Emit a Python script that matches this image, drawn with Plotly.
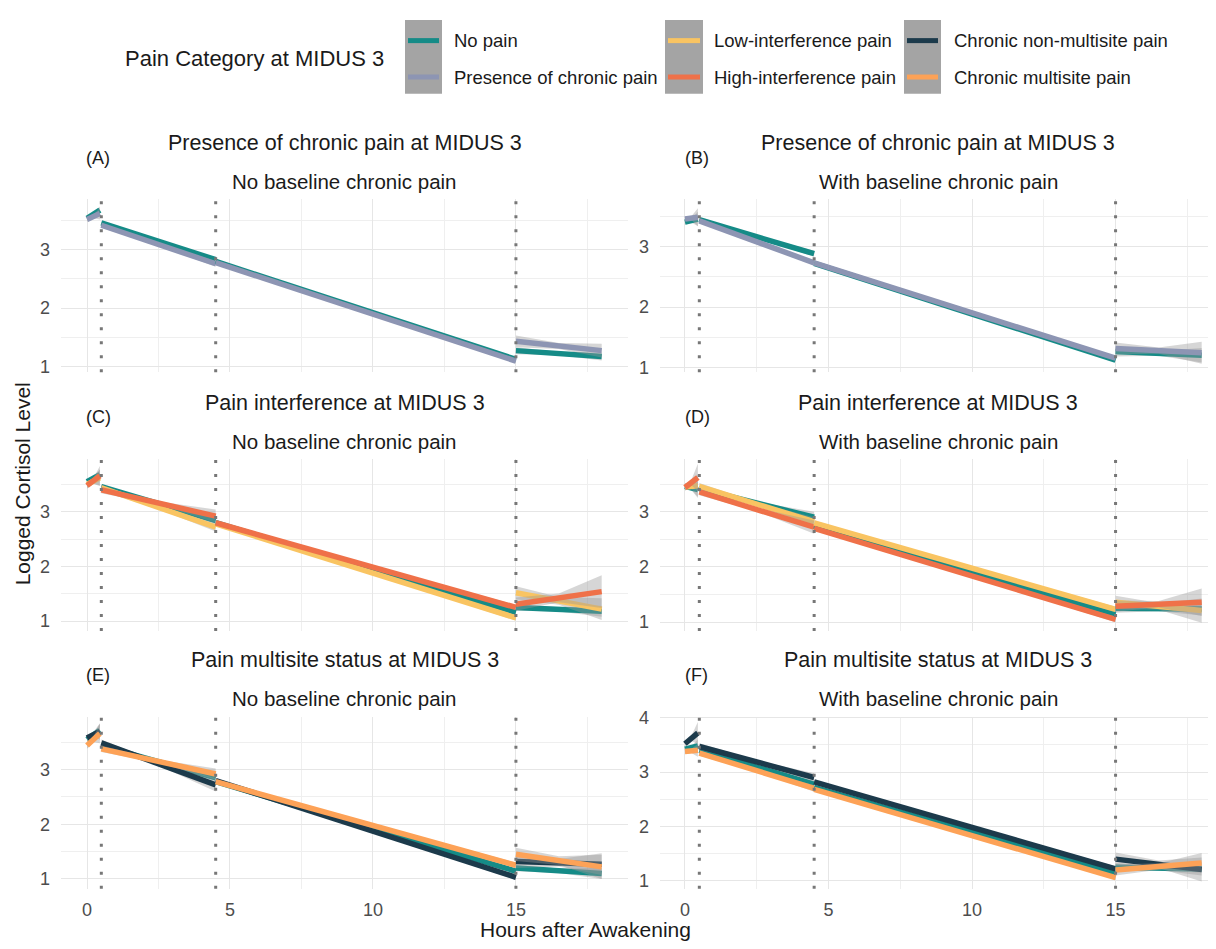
import plotly.graph_objects as go

# ---------------- data ----------------
SEGMENTS = [[0.0, 0.45], [0.5, 4.5], [4.5, 15.0], [15.0, 18.0]]
CUTPOINTS = [0.5, 4.5, 15.0]

CATEGORIES = ["No pain", "Presence of chronic pain", "Low-interference pain",
              "High-interference pain", "Chronic non-multisite pain", "Chronic multisite pain"]
COLORS = ["#158B87", "#8D95B3", "#F9C462", "#EF7149", "#1C3A4B", "#FDA257"]

ROW_TITLES = ["Presence of chronic pain at MIDUS 3", "Pain interference at MIDUS 3",
              "Pain multisite status at MIDUS 3"]
COL_TITLES = ["No baseline chronic pain", "With baseline chronic pain"]
TAGS = ["(A)", "(B)", "(C)", "(D)", "(E)", "(F)"]
X_TICKS = [0, 5, 10, 15]

# fitted values: [seg1 start, seg1 end, seg2 start, seg2 end, seg3 start, seg3 end, seg4 start, seg4 end]
A_NO_PAIN = [3.54, 3.68, 3.46, 2.83, 2.80, 1.12, 1.27, 1.17]
A_CHRONIC = [3.52, 3.62, 3.42, 2.76, 2.78, 1.09, 1.43, 1.27]
B_NO_PAIN = [3.40, 3.45, 3.44, 2.88, 2.72, 1.13, 1.27, 1.21]
B_CHRONIC = [3.45, 3.48, 3.42, 2.73, 2.73, 1.16, 1.32, 1.25]
C_NO_PAIN = [3.55, 3.68, 3.46, 2.84, 2.80, 1.16, 1.25, 1.18]
C_LOW = [3.50, 3.62, 3.44, 2.72, 2.78, 1.06, 1.52, 1.22]
C_HIGH = [3.48, 3.66, 3.40, 2.92, 2.80, 1.25, 1.31, 1.54]
D_NO_PAIN = [3.46, 3.40, 3.42, 2.90, 2.74, 1.14, 1.25, 1.24]
D_LOW = [3.45, 3.47, 3.46, 2.82, 2.80, 1.23, 1.36, 1.21]
D_HIGH = [3.44, 3.62, 3.36, 2.72, 2.70, 1.05, 1.29, 1.36]
E_NO_PAIN = [3.55, 3.72, 3.44, 2.85, 2.78, 1.14, 1.20, 1.10]
E_NONMULTI = [3.58, 3.70, 3.49, 2.72, 2.80, 1.03, 1.32, 1.27]
E_MULTI = [3.44, 3.66, 3.38, 2.92, 2.78, 1.25, 1.45, 1.22]
F_NO_PAIN = [3.42, 3.48, 3.40, 2.78, 2.72, 1.14, 1.25, 1.22]
F_NONMULTI = [3.52, 3.72, 3.47, 2.90, 2.82, 1.22, 1.40, 1.21]
F_MULTI = [3.38, 3.40, 3.35, 2.70, 2.68, 1.06, 1.20, 1.33]

# confidence half-widths: per segment [start, middle, end]
A_NO_PAIN_CI = [0.03, 0.02, 0.06, 0.03, 0.015, 0.03, 0.02, 0.01, 0.02, 0.06, 0.03, 0.07]
A_CHRONIC_CI = [0.04, 0.03, 0.10, 0.04, 0.02, 0.05, 0.03, 0.012, 0.03, 0.10, 0.05, 0.12]
B_NO_PAIN_CI = [0.04, 0.03, 0.12, 0.04, 0.02, 0.05, 0.03, 0.012, 0.03, 0.08, 0.04, 0.12]
B_CHRONIC_CI = [0.03, 0.03, 0.15, 0.03, 0.015, 0.04, 0.02, 0.01, 0.02, 0.10, 0.05, 0.18]
C_NO_PAIN_CI = [0.04, 0.03, 0.10, 0.04, 0.02, 0.05, 0.03, 0.012, 0.03, 0.06, 0.04, 0.10]
C_LOW_CI = [0.06, 0.05, 0.15, 0.06, 0.03, 0.08, 0.04, 0.02, 0.05, 0.12, 0.07, 0.20]
C_HIGH_CI = [0.06, 0.05, 0.18, 0.06, 0.03, 0.12, 0.04, 0.02, 0.05, 0.12, 0.08, 0.30]
D_NO_PAIN_CI = [0.05, 0.04, 0.15, 0.05, 0.02, 0.10, 0.03, 0.012, 0.03, 0.08, 0.05, 0.12]
D_LOW_CI = [0.06, 0.05, 0.20, 0.06, 0.03, 0.08, 0.04, 0.02, 0.05, 0.12, 0.06, 0.22]
D_HIGH_CI = [0.06, 0.05, 0.25, 0.06, 0.03, 0.12, 0.04, 0.02, 0.05, 0.10, 0.06, 0.25]
E_NO_PAIN_CI = [0.04, 0.03, 0.12, 0.04, 0.02, 0.05, 0.03, 0.012, 0.03, 0.06, 0.04, 0.10]
E_NONMULTI_CI = [0.06, 0.05, 0.15, 0.06, 0.03, 0.12, 0.04, 0.02, 0.05, 0.12, 0.07, 0.20]
E_MULTI_CI = [0.06, 0.05, 0.18, 0.06, 0.03, 0.10, 0.04, 0.02, 0.05, 0.12, 0.08, 0.22]
F_NO_PAIN_CI = [0.04, 0.03, 0.12, 0.04, 0.02, 0.05, 0.03, 0.012, 0.03, 0.08, 0.04, 0.12]
F_NONMULTI_CI = [0.06, 0.05, 0.20, 0.06, 0.03, 0.08, 0.04, 0.02, 0.05, 0.12, 0.07, 0.22]
F_MULTI_CI = [0.05, 0.04, 0.12, 0.05, 0.02, 0.06, 0.03, 0.015, 0.04, 0.10, 0.06, 0.18]

PANELS = [
    [(0, A_NO_PAIN, A_NO_PAIN_CI), (1, A_CHRONIC, A_CHRONIC_CI)],
    [(0, B_NO_PAIN, B_NO_PAIN_CI), (1, B_CHRONIC, B_CHRONIC_CI)],
    [(0, C_NO_PAIN, C_NO_PAIN_CI), (2, C_LOW, C_LOW_CI), (3, C_HIGH, C_HIGH_CI)],
    [(0, D_NO_PAIN, D_NO_PAIN_CI), (2, D_LOW, D_LOW_CI), (3, D_HIGH, D_HIGH_CI)],
    [(0, E_NO_PAIN, E_NO_PAIN_CI), (4, E_NONMULTI, E_NONMULTI_CI), (5, E_MULTI, E_MULTI_CI)],
    [(0, F_NO_PAIN, F_NO_PAIN_CI), (4, F_NONMULTI, F_NONMULTI_CI), (5, F_MULTI, F_MULTI_CI)],
]

# ---------------- layout geometry (page pixels) ----------------
PAGE_W, PAGE_H = 1216, 949
OFF = 8                      # default body margin of the html page
W, H = PAGE_W - 2 * OFF, PAGE_H - 2 * OFF
COL_PX = [(61, 628), (660, 1208)]
ROW_PX = [(193, 369), (457, 632), (719, 894)]
X_RANGES = [[-0.91, 18.92], [-0.87, 18.22]]
Y_RANGES = [[0.90, 3.87], [0.93, 3.78], [0.82, 3.97], [0.84, 3.96], [0.82, 3.97], [0.855, 4.02]]

FONT = "Liberation Sans, Arial, sans-serif"
RIBBON = "rgba(153,153,153,0.4)"


def px_x(p):
    return min(1.0, max(0.0, (p - OFF) / W))


def px_y(p):
    return 1 - (p - OFF) / H


fig = go.Figure()
layout = dict(width=W, height=H, autosize=False, margin=dict(l=0, r=0, t=0, b=0, pad=0),
              paper_bgcolor="white", plot_bgcolor="white", showlegend=False,
              font=dict(family=FONT, color="#1a1a1a"))
annotations = []
shapes = []

for i, series in enumerate(PANELS):
    r, c = divmod(i, 2)
    n = i + 1
    xa = "x" if n == 1 else f"x{n}"
    ya = "y" if n == 1 else f"y{n}"
    xkey = "xaxis" if n == 1 else f"xaxis{n}"
    ykey = "yaxis" if n == 1 else f"yaxis{n}"
    layout[xkey] = dict(
        domain=[px_x(COL_PX[c][0]), px_x(COL_PX[c][1])], range=X_RANGES[c], anchor=ya,
        tickmode="array", tickvals=X_TICKS, ticktext=[str(t) for t in X_TICKS],
        showticklabels=(r == 2), showgrid=True, gridcolor="#E6E6E6", gridwidth=1.4,
        zeroline=False, showline=False, ticks="", ticklabelstandoff=8,
        tickfont=dict(size=18, color="#4D4D4D", family=FONT),
        minor=dict(tickmode="linear", tick0=0, dtick=2.5, showgrid=True, gridcolor="#EFEFEF", gridwidth=0.9),
    )
    layout[ykey] = dict(
        domain=[px_y(ROW_PX[r][1]), px_y(ROW_PX[r][0])], range=Y_RANGES[i], anchor=xa,
        tickmode="linear", tick0=0, dtick=1, showgrid=True, gridcolor="#E6E6E6", gridwidth=1.4,
        zeroline=False, showline=False, ticks="", ticklabelstandoff=10,
        tickfont=dict(size=18, color="#4D4D4D", family=FONT),
        minor=dict(tickmode="linear", tick0=0, dtick=0.5, showgrid=True, gridcolor="#EFEFEF", gridwidth=0.9),
    )

    for s, (x0, x1) in enumerate(SEGMENTS):
        xm = (x0 + x1) / 2
        for cat, vals, ci in series:
            y0, y1 = vals[2 * s], vals[2 * s + 1]
            ym = (y0 + y1) / 2
            w0, wm, w1 = ci[3 * s], ci[3 * s + 1], ci[3 * s + 2]
            fig.add_trace(go.Scatter(
                x=[x0, xm, x1, x1, xm, x0],
                y=[y0 + w0, ym + wm, y1 + w1, y1 - w1, ym - wm, y0 - w0],
                fill="toself", fillcolor=RIBBON, line=dict(width=0), mode="lines",
                xaxis=xa, yaxis=ya, hoverinfo="skip"))
            fig.add_trace(go.Scatter(
                x=[x0, x1], y=[y0, y1], mode="lines",
                line=dict(color=COLORS[cat], width=5.5),
                xaxis=xa, yaxis=ya, name=CATEGORIES[cat]))

    for cp in CUTPOINTS:
        shapes.append(dict(type="line", xref=xa, yref=f"{ya} domain", x0=cp, x1=cp, y0=0, y1=1,
                           line=dict(color="#777777", width=3, dash="3px,11px"), layer="above"))

    top = ROW_PX[r][0]
    cx = (COL_PX[c][0] + (COL_PX[c][1] if c == 0 else PAGE_W)) / 2
    annotations.append(dict(text=ROW_TITLES[r], x=px_x(cx), y=px_y(top - 57), xref="paper", yref="paper",
                            showarrow=False, xanchor="center", yanchor="middle",
                            font=dict(size=21.5, color="#1a1a1a", family=FONT)))
    annotations.append(dict(text=COL_TITLES[c], x=px_x(cx), y=px_y(top - 18), xref="paper", yref="paper",
                            showarrow=False, xanchor="center", yanchor="middle",
                            font=dict(size=20.5, color="#1a1a1a", family=FONT)))
    annotations.append(dict(text=TAGS[i], x=px_x(COL_PX[c][0] + 23), y=px_y(top - 42), xref="paper",
                            yref="paper", showarrow=False, xanchor="left", yanchor="middle",
                            font=dict(size=18, color="#1a1a1a", family=FONT)))

# axis titles
annotations.append(dict(text="Logged Cortisol Level", x=px_x(22), y=px_y(483), xref="paper", yref="paper",
                        showarrow=False, textangle=-90, xanchor="center", yanchor="middle",
                        font=dict(size=21, color="#1a1a1a", family=FONT)))
annotations.append(dict(text="Hours after Awakening", x=px_x(585), y=px_y(935), xref="paper", yref="paper",
                        showarrow=False, xanchor="center", yanchor="middle",
                        font=dict(size=21, color="#1a1a1a", family=FONT)))

# legend (drawn manually to match ggplot layout)
annotations.append(dict(text="Pain Category at MIDUS 3", x=px_x(123), y=px_y(50), xref="paper", yref="paper",
                        showarrow=False, xanchor="left", yanchor="middle",
                        font=dict(size=22, color="#1a1a1a", family=FONT)))
LEG_COLS = [(405, 442, 452), (665, 703, 712), (904, 941, 952)]
LEG_ROWS = [32, 69]
for k, cat in enumerate(CATEGORIES):
    col, row = divmod(k, 2)
    bx0, bx1, tx = LEG_COLS[col]
    if row == 0:
        shapes.append(dict(type="rect", xref="paper", yref="paper", x0=px_x(bx0), x1=px_x(bx1),
                           y0=px_y(86), y1=px_y(11), fillcolor="#A4A4A4", line=dict(width=0)))
    ly = LEG_ROWS[row]
    shapes.append(dict(type="line", xref="paper", yref="paper", x0=px_x(bx0 + 3), x1=px_x(bx1 - 3),
                       y0=px_y(ly), y1=px_y(ly), line=dict(color=COLORS[k], width=5)))
    annotations.append(dict(text=cat, x=px_x(tx), y=px_y(ly), xref="paper", yref="paper",
                            showarrow=False, xanchor="left", yanchor="middle",
                            font=dict(size=18.5, color="#1a1a1a", family=FONT)))

layout["annotations"] = annotations
layout["shapes"] = shapes
fig.update_layout(**layout)
fig.write_html("out.html", config={"displayModeBar": False})
